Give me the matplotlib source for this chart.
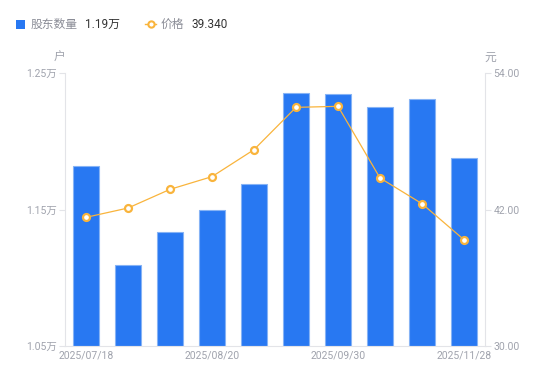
import matplotlib
matplotlib.use("Agg")
import matplotlib.pyplot as plt
from matplotlib.lines import Line2D
from matplotlib.patches import Rectangle

plt.rcParams['font.family'] = ['Roboto', 'Noto Sans CJK SC', 'DejaVu Sans']

dates = ["2025/07/18", "2025/07/31", "2025/08/10", "2025/08/20", "2025/08/31",
         "2025/09/10", "2025/09/30", "2025/10/20", "2025/10/31", "2025/11/28"]
holders = [1.182, 1.109, 1.1335, 1.150, 1.1685, 1.2355, 1.2348, 1.2253, 1.2312, 1.188]
price = [41.31, 42.13, 43.77, 44.89, 47.26, 50.98, 51.07, 44.77, 42.51, 39.34]
shown_ticks = [0, 3, 6, 9]

BLUE = '#2878F2'
ORANGE = '#F9B43C'
GRAY = '#A0A3AD'
AXC = '#E3E4E8'

fig = plt.figure(figsize=(5.5, 3.81), dpi=100)
ax = fig.add_axes([65/550, 1-346/381, 420/550, 273/381])
ax2 = ax.twinx()

x = list(range(len(dates)))
ax.bar(x, [h - 1.05 for h in holders], bottom=1.05, width=0.6, color=BLUE,
       edgecolor='#86B3F5', linewidth=0.8, zorder=2)
ax.set_xlim(-0.5, len(dates) - 0.5)
ax.set_ylim(1.05, 1.25)
ax.set_yticks([1.05, 1.15, 1.25])
ax.set_yticklabels(['1.05万', '1.15万', '1.25万'])

ax2.plot(x, price, color=ORANGE, linewidth=0.9, marker='o', markersize=5,
         markerfacecolor='white', markeredgecolor=ORANGE, markeredgewidth=1.6, zorder=3)
ax2.set_ylim(30, 54)
ax2.set_yticks([30, 42, 54])
ax2.set_yticklabels(['30.00', '42.00', '54.00'])

ax.set_xticks(shown_ticks)
ax.set_xticklabels([dates[i] for i in shown_ticks])

for a in (ax, ax2):
    for s in a.spines.values():
        s.set_visible(False)
ax.spines['left'].set_visible(True)
ax.spines['left'].set_color(AXC)
ax.spines['bottom'].set_visible(True)
ax.spines['bottom'].set_color(AXC)
ax2.spines['right'].set_visible(True)
ax2.spines['right'].set_color(AXC)

ax.tick_params(axis='y', colors=AXC, labelcolor=GRAY, labelsize=7.5, length=4, pad=2)
ax.tick_params(axis='x', length=0, labelcolor=GRAY, labelsize=7.5, pad=3)
ax2.tick_params(axis='y', colors=AXC, labelcolor=GRAY, labelsize=7.5, length=4, pad=2)

fig.text(59/550, 1-57/381, '户', color=GRAY, fontsize=8.5, ha='center', va='center')
fig.text(490/550, 1-57/381, '元', color=GRAY, fontsize=8.5, ha='center', va='center')

# legend
ly = 1 - 24/381
fig.patches.append(Rectangle((16/550, 1-29/381), 9/550, 9/381, transform=fig.transFigure,
                             facecolor=BLUE, edgecolor='none'))
fig.text(31/550, ly, '股东数量', color='#8A8C96', fontsize=8.5, va='center')
fig.text(85/550, ly, '1.19万', color='#333333', fontsize=8.5, va='center')
fig.lines.append(Line2D([145/550, 150.5/550, 156/550], [ly, ly, ly], transform=fig.transFigure,
                        color=ORANGE, linewidth=1.0, marker='o', markersize=4.5,
                        markevery=[1], markerfacecolor='white', markeredgecolor=ORANGE,
                        markeredgewidth=1.5))
fig.text(161/550, ly, '价格', color='#8A8C96', fontsize=8.5, va='center')
fig.text(191/550, ly, '39.340', color='#333333', fontsize=8.5, va='center')

fig.savefig('out.png', dpi=100)
